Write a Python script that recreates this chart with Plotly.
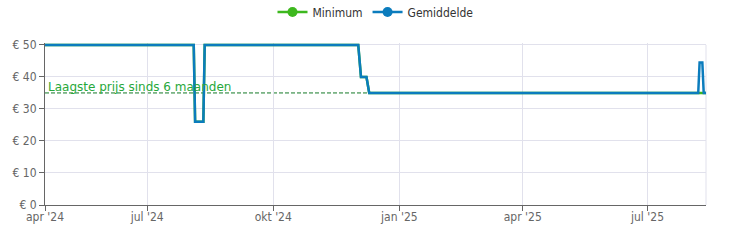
import plotly.graph_objects as go

# ---- data ----
min_dates = ["2024-04-17", "2024-08-04", "2024-08-05", "2024-08-11", "2024-08-12",
             "2024-12-02", "2024-12-04", "2024-12-08", "2024-12-10", "2025-08-13"]
min_values = [50, 50, 26, 26, 50, 50, 40, 40, 35, 35]

avg_dates = ["2024-04-17", "2024-08-04", "2024-08-05", "2024-08-11", "2024-08-12",
             "2024-12-02", "2024-12-04", "2024-12-08", "2024-12-10",
             "2025-08-07", "2025-08-08", "2025-08-10", "2025-08-11", "2025-08-13"]
avg_values = [50, 50, 26, 26, 50, 50, 40, 40, 35, 35, 44.5, 44.5, 35, 35]

lowest_price = 35
lowest_label = "Laagste prijs sinds 6 maanden"

x_tickvals = ["2024-04-17 12:00", "2024-07-01", "2024-10-01", "2025-01-01", "2025-04-01", "2025-07-01"]
x_ticktext = ["apr '24", "jul '24", "okt '24", "jan '25", "apr '25", "jul '25"]
x_range = ["2024-04-17 12:00", "2025-08-12 16:00"]

y_tickvals = [0, 10, 20, 30, 40, 50]
y_ticktext = ["€ 0", "€ 10", "€ 20", "€ 30", "€ 40", "€ 50"]

GREEN = "#3db81e"
BLUE = "#0b7cbd"
TICKFONT = dict(family="Liberation Sans Narrow, DejaVu Sans Condensed, sans-serif", size=12, color="#666666")

fig = go.Figure()
fig.add_trace(go.Scatter(x=min_dates, y=min_values, mode="lines", line=dict(color=GREEN, width=2.5),
                         showlegend=False, name="Minimum", cliponaxis=False))
fig.add_trace(go.Scatter(x=avg_dates, y=avg_values, mode="lines", line=dict(color=BLUE, width=2.5),
                         showlegend=False, name="Gemiddelde", cliponaxis=False))
# legend entries
fig.add_trace(go.Scatter(x=[None], y=[None], mode="lines+markers", name="Minimum",
                         line=dict(color=GREEN, width=2.5), marker=dict(color=GREEN, size=10)))
fig.add_trace(go.Scatter(x=[None], y=[None], mode="lines+markers", name="Gemiddelde",
                         line=dict(color=BLUE, width=2.5), marker=dict(color=BLUE, size=10)))

fig.add_shape(type="line", xref="paper", x0=0, x1=1, yref="y", y0=lowest_price, y1=lowest_price,
              line=dict(color="#147a27", width=1, dash="4px,2px"), layer="between")
fig.add_shape(type="line", xref="paper", x0=1, x1=1, yref="y", y0=0, y1=50,
              line=dict(color="#e1e1ec", width=1), layer="between")
fig.add_annotation(xref="paper", x=0, xanchor="left", xshift=1, y=lowest_price, yref="y",
                   yanchor="bottom", yshift=-3, text=lowest_label, showarrow=False,
                   font=dict(family="DejaVu Sans, sans-serif", size=12, color="#27a83a"))

fig.update_layout(
    width=750, height=250,
    margin=dict(l=45, r=44, t=43, b=45),
    paper_bgcolor="white", plot_bgcolor="white",
    legend=dict(orientation="h", x=0.5, xanchor="center", yref="container", y=0.952, yanchor="middle",
                font=dict(family="Liberation Sans Narrow, DejaVu Sans Condensed, sans-serif", size=12, color="#333333"),
                itemwidth=30, tracegroupgap=0),
    xaxis=dict(type="date", range=x_range, tickvals=x_tickvals, ticktext=x_ticktext,
               showgrid=True, gridcolor="#e1e1ec", gridwidth=1,
               showline=True, linecolor="#666666", linewidth=1,
               ticks="outside", ticklen=5, tickcolor="#666666", tickfont=TICKFONT, zeroline=False,
               ticklabelstandoff=-4),
    yaxis=dict(range=[0, 50.6], tickvals=y_tickvals, ticktext=y_ticktext,
               showgrid=True, gridcolor="#e1e1ec", gridwidth=1,
               showline=True, linecolor="#666666", linewidth=1,
               ticks="outside", ticklen=5, tickcolor="#666666", tickfont=TICKFONT, zeroline=False),
)

fig.write_html("out.html")
